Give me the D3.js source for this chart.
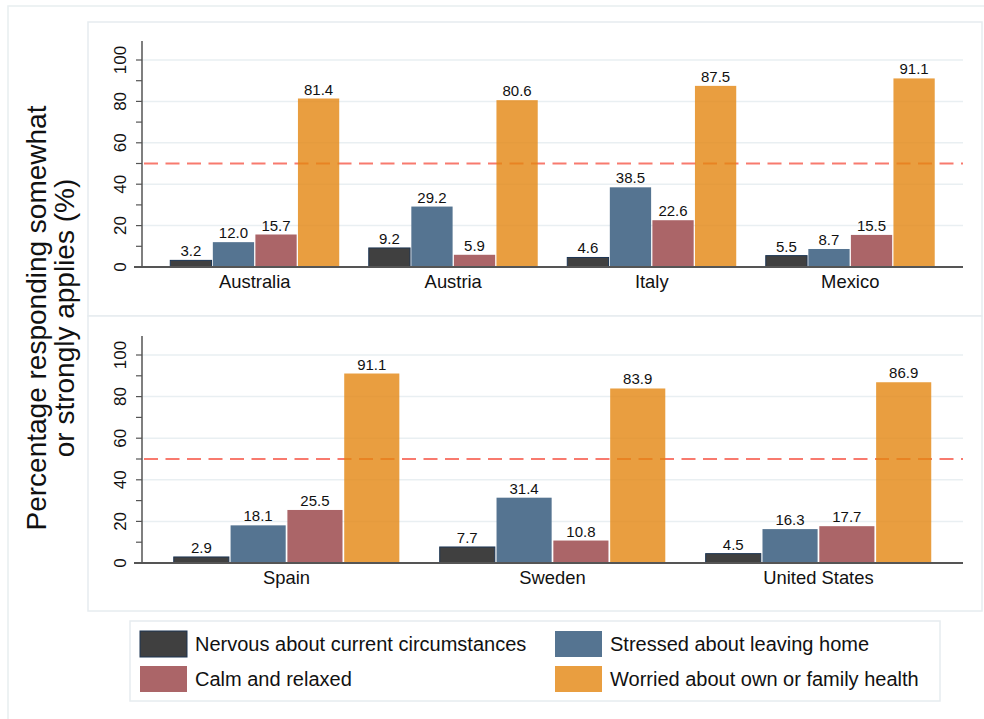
<!DOCTYPE html>
<html>
<head>
<meta charset="utf-8">
<script src="https://cdn.jsdelivr.net/npm/d3@7"></script>
<style>
  body { margin: 0; background: #fff; }
  svg text { font-family: "Liberation Sans", Arial, sans-serif; fill: #111; }
</style>
</head>
<body>
<div id="chart"></div>
<script>
var countries = ["Australia", "Austria", "Italy", "Mexico", "Spain", "Sweden", "United States"];
var seriesNames = ["Nervous about current circumstances", "Stressed about leaving home",
                   "Calm and relaxed", "Worried about own or family health"];
var nervous  = [3.2, 9.2, 4.6, 5.5, 2.9, 7.7, 4.5];
var stressed = [12.0, 29.2, 38.5, 8.7, 18.1, 31.4, 16.3];
var calm     = [15.7, 5.9, 22.6, 15.5, 25.5, 10.8, 17.7];
var worried  = [81.4, 80.6, 87.5, 91.1, 91.1, 83.9, 86.9];
var yTicks = [0, 10, 20, 30, 40, 50, 60, 70, 80, 90, 100];
var yLabels = [0, 20, 40, 60, 80, 100];
var refLine = 50;

var seriesValues = [nervous, stressed, calm, worried];
var colors = ["#404040", "#557491", "#ab6568", "rgb(228,134,16)"];
var opac = [1, 1, 1, 0.8];

var width = 984, height = 719;

var svg = d3.select("#chart")
    .append("svg")
    .attr("width", width)
    .attr("height", height);

/* outer background box */
svg.append("rect")
    .attr("x", 8).attr("y", 6)
    .attr("width", 990).attr("height", 730)
    .attr("fill", "#fff")
    .attr("stroke", "#e8eef0")
    .attr("stroke-width", 1.5);

var panels = [
    { names: countries.slice(0, 4), offset: 0, box: [88, 22, 894, 294], y0: 267, y100: 60, top: 41, pIn: 0.136, pOut: 0.136 },
    { names: countries.slice(4), offset: 4, box: [88, 316, 894, 295], y0: 563, y100: 355, top: 336, pIn: 0.139, pOut: 0.113 }
];

var plotLeft = 142, plotRight = 963;

panels.forEach(function(p) {
    var g = svg.append("g");

    g.append("rect")
        .attr("x", p.box[0]).attr("y", p.box[1])
        .attr("width", p.box[2]).attr("height", p.box[3])
        .attr("fill", "#fff")
        .attr("stroke", "#e6ecef")
        .attr("stroke-width", 1.5);

    var y = d3.scaleLinear().domain([0, 100]).range([p.y0, p.y100]);
    var x0 = d3.scaleBand()
        .domain(p.names)
        .range([plotLeft, plotRight])
        .paddingInner(p.pIn)
        .paddingOuter(p.pOut);
    var x1 = d3.scaleBand()
        .domain(d3.range(seriesNames.length))
        .range([0, x0.bandwidth()])
        .padding(0.03);

    /* gridlines */
    g.selectAll(".grid")
        .data(yLabels.filter(function(d) { return d > 0; }))
        .enter().append("line")
        .attr("x1", plotLeft).attr("x2", plotRight)
        .attr("y1", function(d) { return y(d); })
        .attr("y2", function(d) { return y(d); })
        .attr("stroke", "#e9eff2")
        .attr("stroke-width", 1.5);

    /* reference line, under the bars */
    g.append("line")
        .attr("x1", plotLeft + 2).attr("x2", plotRight)
        .attr("y1", y(refLine)).attr("y2", y(refLine))
        .attr("stroke", "#f87a6e")
        .attr("stroke-width", 2)
        .attr("stroke-dasharray", "14,7.5");

    /* bars */
    var groups = g.selectAll(".grp")
        .data(p.names)
        .enter().append("g")
        .attr("transform", function(d) { return "translate(" + x0(d) + ",0)"; });

    groups.each(function(name, i) {
        var idx = p.offset + i;
        var vals = seriesValues.map(function(s, k) { return { k: k, v: s[idx] }; });
        var sel = d3.select(this);

        sel.selectAll("rect")
            .data(vals)
            .enter().append("rect")
            .attr("x", function(d) { return x1(d.k); })
            .attr("width", x1.bandwidth())
            .attr("y", function(d) { return y(d.v); })
            .attr("height", function(d) { return y(0) - y(d.v); })
            .attr("fill", function(d) { return colors[d.k]; })
            .attr("fill-opacity", function(d) { return opac[d.k]; })
            .attr("stroke", function(d) { return d.k == 0 ? "#1c3553" : "none"; })
            .attr("stroke-width", 1);

        sel.selectAll("text")
            .data(vals)
            .enter().append("text")
            .attr("x", function(d) { return x1(d.k) + x1.bandwidth() / 2; })
            .attr("y", function(d) { return y(d.v) - 4; })
            .attr("text-anchor", "middle")
            .attr("font-size", "15px")
            .text(function(d) { return d.v.toFixed(1); });
    });

    /* x axis baseline and labels */
    g.append("line")
        .attr("x1", plotLeft - 8).attr("x2", plotRight)
        .attr("y1", p.y0).attr("y2", p.y0)
        .attr("stroke", "#555")
        .attr("stroke-width", 2);

    g.selectAll(".xlab")
        .data(p.names)
        .enter().append("text")
        .attr("x", function(d) { return x0(d) + x0.bandwidth() / 2; })
        .attr("y", p.y0 + 21)
        .attr("text-anchor", "middle")
        .attr("font-size", "18.4px")
        .text(function(d) { return d; });

    /* y axis */
    g.append("line")
        .attr("x1", plotLeft).attr("x2", plotLeft)
        .attr("y1", p.top).attr("y2", p.y0)
        .attr("stroke", "#555")
        .attr("stroke-width", 1.5);

    g.selectAll(".tick")
        .data(yTicks)
        .enter().append("line")
        .attr("x1", plotLeft - 6).attr("x2", plotLeft)
        .attr("y1", function(d) { return y(d); })
        .attr("y2", function(d) { return y(d); })
        .attr("stroke", "#555")
        .attr("stroke-width", 1.2);

    g.selectAll(".ylab")
        .data(yLabels)
        .enter().append("text")
        .attr("transform", function(d) { return "translate(126," + y(d) + ") rotate(-90)"; })
        .attr("text-anchor", "middle")
        .attr("font-size", "17px")
        .text(function(d) { return d; });
});

/* y axis title */
var title = ["Percentage responding somewhat", "or strongly applies (%)"];
svg.selectAll(".ytitle")
    .data(title)
    .enter().append("text")
    .attr("transform", function(d, i) { return "translate(" + (46 + i * 28) + ",318) rotate(-90)"; })
    .attr("text-anchor", "middle")
    .attr("font-size", "28px")
    .text(function(d) { return d; });

/* legend */
var legend = svg.append("g");
legend.append("rect")
    .attr("x", 130).attr("y", 621)
    .attr("width", 810).attr("height", 80)
    .attr("fill", "#fff")
    .attr("stroke", "#e6ecef")
    .attr("stroke-width", 1.5);

var legX = [140, 555, 140, 555];
var legY = [631, 631, 666, 666];
var legOrder = [0, 1, 2, 3];

legOrder.forEach(function(k, i) {
    legend.append("rect")
        .attr("x", legX[i]).attr("y", legY[i])
        .attr("width", 47).attr("height", 26)
        .attr("fill", colors[k])
        .attr("fill-opacity", opac[k])
        .attr("stroke", k == 0 ? "#1c3553" : "none")
        .attr("stroke-width", 1);
    legend.append("text")
        .attr("x", legX[i] + 55)
        .attr("y", legY[i] + 20)
        .attr("font-size", "20px")
        .text(seriesNames[k]);
});
</script>
</body>
</html>
